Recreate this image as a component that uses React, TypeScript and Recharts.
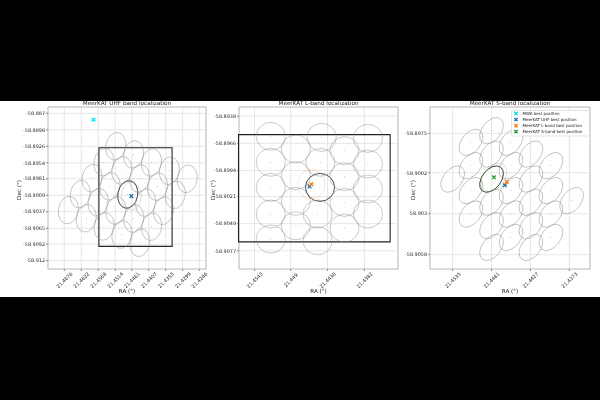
import {
  ScatterChart,
  Scatter,
  XAxis,
  YAxis,
  CartesianGrid,
  ReferenceArea,
  Label,
  Legend,
} from "recharts";

const FONT = "'DejaVu Sans', sans-serif";
const Y_AXIS_W = 40;
const X_AXIS_H = 26;
const INK = "#222";

// ---- best positions (deg) ----
const MARKER_NAMES = [
  "MWA best position",
  "MeerKAT UHF best position",
  "MeerKAT L-band best position",
  "MeerKAT S-band best position",
];
const MARKER_COLORS = ["#00e6f0", "#1f77b4", "#ff7f0e", "#2ca02c"];
const MARKER_RA = [21.4583, 21.44624, 21.44597, 21.44776];
const MARKER_DEC = [-58.8881, -58.90105, -58.90082, -58.90051];

// ---- UHF ----
const UHF_RA_TICKS = [21.4676, 21.4622, 21.4568, 21.4514, 21.4461, 21.4407, 21.4353, 21.4299, 21.4246];
const UHF_DEC_TICKS = [-58.887, -58.8898, -58.8926, -58.8954, -58.8981, -58.9009, -58.9037, -58.9065, -58.9092, -58.912];
const UHF_RA_DOMAIN = [21.42247, 21.47279];
const UHF_DEC_DOMAIN = [-58.91341, -58.88593];
const UHF_BEAM_RA = [
  21.45121, 21.44552, 21.43983, 21.43415, 21.42846,
  21.45498, 21.4493, 21.44361, 21.43792, 21.43223,
  21.45876, 21.45307, 21.44738, 21.4417, 21.43601,
  21.46253, 21.45684, 21.45116, 21.44547, 21.43978,
  21.46631, 21.46062, 21.45493, 21.44925, 21.44356,
];
const UHF_BEAM_DEC = [
  -58.89259, -58.89397, -58.89535, -58.89674, -58.89812,
  -58.8953, -58.89668, -58.89806, -58.89944, -58.90083,
  -58.898, -58.89939, -58.90077, -58.90215, -58.90353,
  -58.90071, -58.90209, -58.90348, -58.90486, -58.90624,
  -58.90342, -58.9048, -58.90618, -58.90757, -58.90895,
];
const UHF_HIT = 12;
const UHF_BEAM = { ra: 0.00316, dec: 0.00236, angle: 10 };
const UHF_ERR = { ra: 0.00319, dec: 0.00237, angle: 0 };

// ---- L-band ----
const L_RA_TICKS = [21.4543, 21.449, 21.4436, 21.4382];
const L_DEC_TICKS = [-58.8938, -58.8966, -58.8994, -58.9021, -58.9049, -58.9077];
const L_RA_DOMAIN = [21.43327, 21.45658];
const L_DEC_DOMAIN = [-58.90958, -58.89285];
const L_BEAM_RA = [
  21.45192, 21.45192, 21.45192, 21.45192, 21.45192,
  21.44824, 21.44824, 21.44824, 21.44824,
  21.44446, 21.44465, 21.4447, 21.44505, 21.44505,
  21.44112, 21.44112, 21.44112, 21.44112,
  21.43768, 21.43768, 21.43768, 21.43768,
];
const L_BEAM_DEC = [
  -58.89588, -58.89856, -58.90115, -58.9039, -58.90648,
  -58.89719, -58.89994, -58.90259, -58.90511,
  -58.89598, -58.89856, -58.90115, -58.9039, -58.90666,
  -58.89736, -58.90005, -58.9027, -58.90535,
  -58.89609, -58.89874, -58.90132, -58.9039,
];
const L_HIT = 11;
const L_BEAM = { ra: 0.002135, dec: 0.001446, angle: 0 };
const L_ERR = { ra: 0.00202, dec: 0.0015, angle: 0 };

// ---- S-band ----
const S_RA_TICKS = [21.4535, 21.4481, 21.4427, 21.4373];
const S_DEC_TICKS = [-58.8975, -58.9002, -58.903, -58.9058];
const S_RA_DOMAIN = [21.43442, 21.45665];
const S_DEC_DOMAIN = [-58.90678, -58.8957];
const S_BEAM_RA = [
  21.4535,
  21.45096, 21.45096, 21.45096, 21.45096,
  21.4481, 21.4481, 21.4481, 21.4481, 21.4481, 21.4481,
  21.4454, 21.4454, 21.4454, 21.4454, 21.4454,
  21.44263, 21.44263, 21.44263, 21.44263, 21.44263,
  21.43985, 21.43985, 21.43985, 21.43985,
  21.43697,
];
const S_BEAM_DEC = [
  -58.90063,
  -58.89812, -58.89971, -58.90142, -58.90302,
  -58.89732, -58.89892, -58.90063, -58.90222, -58.90382, -58.9053,
  -58.89812, -58.89971, -58.90142, -58.90302, -58.90462,
  -58.89892, -58.90063, -58.90222, -58.90382, -58.9053,
  -58.89971, -58.90142, -58.90302, -58.90462,
  -58.9021,
];
const S_HIT = 7;
const S_BEAM = { ra: 0.00208, dec: 0.00065, angle: -52 };
const S_ERR = { ra: 0.00222, dec: 0.00072, angle: -52 };

const toPoints = (ra: number[], dec: number[], hit: number) =>
  ra.map((r, i) => ({ ra: r, dec: dec[i], hit: i === hit }));

const PANELS = [
  {
    title: "MeerKAT UHF band localization",
    box: { left: 48, right: 206, top: 107, bottom: 269 },
    raDomain: UHF_RA_DOMAIN,
    decDomain: UHF_DEC_DOMAIN,
    raTicks: UHF_RA_TICKS,
    decTicks: UHF_DEC_TICKS,
    decLabelX: 19,
    beams: toPoints(UHF_BEAM_RA, UHF_BEAM_DEC, UHF_HIT),
    beam: UHF_BEAM,
    err: UHF_ERR,
    errMarker: 1,
    rect: { ra: L_RA_DOMAIN, dec: L_DEC_DOMAIN },
    markers: [0, 1],
    legend: false,
  },
  {
    title: "MeerKAT L-band localization",
    box: { left: 239, right: 398, top: 107, bottom: 269 },
    raDomain: L_RA_DOMAIN,
    decDomain: L_DEC_DOMAIN,
    raTicks: L_RA_TICKS,
    decTicks: L_DEC_TICKS,
    decLabelX: 213,
    beams: toPoints(L_BEAM_RA, L_BEAM_DEC, L_HIT),
    beam: L_BEAM,
    err: L_ERR,
    errMarker: 2,
    rect: { ra: S_RA_DOMAIN, dec: S_DEC_DOMAIN },
    markers: [1, 2],
    legend: false,
  },
  {
    title: "MeerKAT S-band localization",
    box: { left: 430, right: 590, top: 107, bottom: 269 },
    raDomain: S_RA_DOMAIN,
    decDomain: S_DEC_DOMAIN,
    raTicks: S_RA_TICKS,
    decTicks: S_DEC_TICKS,
    decLabelX: 413,
    beams: toPoints(S_BEAM_RA, S_BEAM_DEC, S_HIT),
    beam: S_BEAM,
    err: S_ERR,
    errMarker: 3,
    rect: null,
    markers: [1, 2, 3],
    legend: true,
  },
];

function XMark({ cx, cy, color, r = 1.3 }: any) {
  return (
    <g stroke={color} strokeWidth={1.4} strokeLinecap="square">
      <line x1={cx - r} y1={cy - r} x2={cx + r} y2={cy + r} />
      <line x1={cx - r} y1={cy + r} x2={cx + r} y2={cy - r} />
    </g>
  );
}

function RaTick(props: any) {
  const { x, y, payload } = props;
  return (
    <text
      transform={`translate(${x},${y + 7}) rotate(-45)`}
      textAnchor="middle"
      dominantBaseline="central"
      fontSize={4.9}
      style={{ fill: INK }}
    >
      {payload.value}
    </text>
  );
}

function LegendBox() {
  return (
    <svg width={80} height={27} style={{ display: "block" }}>
      <rect x={0.5} y={0.5} width={78} height={25.5} rx={1.5} fill="#fff" fillOpacity={0.85} stroke="#d0d0d0" strokeWidth={0.6} />
      {MARKER_NAMES.map((name, i) => (
        <g key={name}>
          <XMark cx={5} cy={3.4 + i * 6.1} color={MARKER_COLORS[i]} r={1.1} />
          <text x={11.5} y={3.4 + i * 6.1} dominantBaseline="central" fontSize={4} style={{ fill: INK }}>
            {name}
          </text>
        </g>
      ))}
    </svg>
  );
}

function Panel({ cfg }: { cfg: any }) {
  const { box } = cfg;
  const pxRA = (box.right - box.left) / (cfg.raDomain[1] - cfg.raDomain[0]);
  const pxDec = (box.bottom - box.top) / (cfg.decDomain[1] - cfg.decDomain[0]);

  const beamShape = (p: any) => {
    const hit = p.payload && p.payload.hit;
    return (
      <g>
        <ellipse
          cx={p.cx}
          cy={p.cy}
          rx={cfg.beam.ra * pxRA}
          ry={cfg.beam.dec * pxDec}
          transform={`rotate(${cfg.beam.angle} ${p.cx} ${p.cy})`}
          fill="none"
          stroke={hit ? "#3a3a3a" : "#8c8c8c"}
          strokeWidth={hit ? 0.9 : 0.55}
          strokeOpacity={hit ? 1 : 0.85}
        />
        <circle cx={p.cx} cy={p.cy} r={0.45} fill="#999" />
      </g>
    );
  };

  const errShape = (p: any) => (
    <ellipse
      cx={p.cx}
      cy={p.cy}
      rx={cfg.err.ra * pxRA}
      ry={cfg.err.dec * pxDec}
      transform={`rotate(${cfg.err.angle} ${p.cx} ${p.cy})`}
      fill="none"
      stroke={MARKER_COLORS[cfg.errMarker]}
      strokeOpacity={0.35}
      strokeWidth={0.6}
    />
  );

  return (
    <div style={{ position: "absolute", left: 0, top: 0, willChange: "transform" }}>
      <ScatterChart
        width={600}
        height={400}
        margin={{
          top: box.top,
          left: box.left - Y_AXIS_W,
          right: 600 - box.right,
          bottom: 400 - box.bottom - X_AXIS_H,
        }}
      >
        <CartesianGrid stroke="#e0e0e0" strokeWidth={0.8} />
        <XAxis
          type="number"
          dataKey="ra"
          domain={cfg.raDomain}
          ticks={cfg.raTicks}
          interval={0}
          reversed
          allowDataOverflow
          height={X_AXIS_H}
          axisLine={false}
          tickSize={2}
          tickMargin={2}
          tickLine={{ stroke: "#444", strokeWidth: 0.6 }}
          tick={(p: any) => <RaTick {...p} />}
        >
          <Label
            content={({ viewBox }: any) => (
              <text x={viewBox.x + viewBox.width / 2} y={viewBox.y + 23.5} textAnchor="middle" fontSize={5.6} style={{ fill: INK }}>
                RA (°)
              </text>
            )}
          />
        </XAxis>
        <YAxis
          type="number"
          dataKey="dec"
          domain={cfg.decDomain}
          ticks={cfg.decTicks}
          interval={0}
          allowDataOverflow
          width={Y_AXIS_W}
          axisLine={false}
          tickSize={2}
          tickMargin={1}
          tickLine={{ stroke: "#444", strokeWidth: 0.6 }}
          tick={{ fontSize: 4.9, fill: INK }}
        >
          <Label
            content={({ viewBox }: any) => (
              <text
                transform={`translate(${cfg.decLabelX},${viewBox.y + viewBox.height / 2 + 2}) rotate(-90)`}
                textAnchor="middle"
                dominantBaseline="central"
                fontSize={5.6}
                style={{ fill: INK }}
              >
                Dec (°)
              </text>
            )}
          />
        </YAxis>
        <ReferenceArea
          x1={cfg.raDomain[0]}
          x2={cfg.raDomain[1]}
          y1={cfg.decDomain[0]}
          y2={cfg.decDomain[1]}
          fill="none"
          stroke="#b8b8b8"
          strokeWidth={0.8}
          ifOverflow="visible"
        >
          <Label
            content={({ viewBox }: any) => (
              <text x={viewBox.x + viewBox.width / 2} y={viewBox.y - 1.6} textAnchor="middle" fontSize={5.7} style={{ fill: INK }}>
                {cfg.title}
              </text>
            )}
          />
        </ReferenceArea>
        <Scatter data={cfg.beams} shape={beamShape} isAnimationActive={false} />
        <Scatter
          data={[{ ra: MARKER_RA[cfg.errMarker], dec: MARKER_DEC[cfg.errMarker] }]}
          shape={errShape}
          isAnimationActive={false}
        />
        {cfg.rect && (
          <ReferenceArea
            x1={cfg.rect.ra[0]}
            x2={cfg.rect.ra[1]}
            y1={cfg.rect.dec[0]}
            y2={cfg.rect.dec[1]}
            fill="none"
            stroke="#222"
            strokeWidth={1.1}
            ifOverflow="visible"
          />
        )}
        {cfg.markers.map((m: number) => (
          <Scatter
            key={m}
            name={MARKER_NAMES[m]}
            data={[{ ra: MARKER_RA[m], dec: MARKER_DEC[m] }]}
            shape={(p: any) => <XMark cx={p.cx} cy={p.cy} color={MARKER_COLORS[m]} />}
            isAnimationActive={false}
          />
        ))}
        {cfg.legend && (
          <Legend
            layout="vertical"
            align="center"
            verticalAlign="middle"
            wrapperStyle={{ left: 511, top: 110, width: 80, height: 27 }}
            content={() => <LegendBox />}
          />
        )}
      </ScatterChart>
    </div>
  );
}

export default function App() {
  return (
    <div
      style={{
        position: "absolute",
        left: 0,
        top: 0,
        width: 600,
        height: 400,
        background: "#000",
        fontFamily: FONT,
        overflow: "hidden",
      }}
    >
      <div style={{ position: "absolute", left: 0, top: 101, width: 600, height: 196, background: "#fff" }} />
      {PANELS.map((cfg) => (
        <Panel key={cfg.title} cfg={cfg} />
      ))}
    </div>
  );
}
